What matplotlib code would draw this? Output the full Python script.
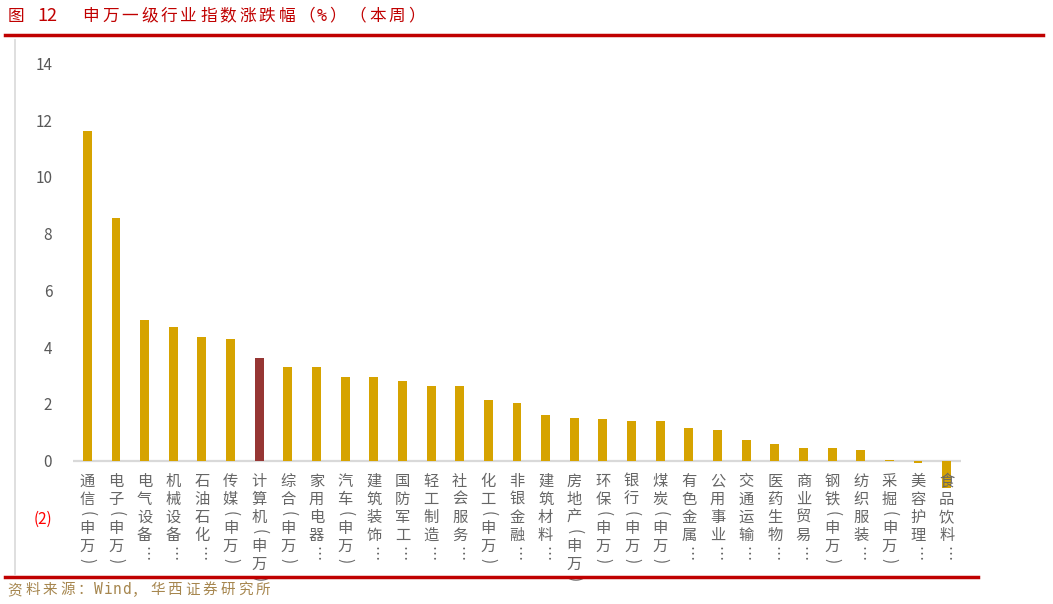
import matplotlib
matplotlib.use('Agg')
import matplotlib.pyplot as plt
from matplotlib.lines import Line2D
from matplotlib.transforms import offset_copy, blended_transform_factory

plt.rcParams['font.family'] = ['Noto Sans CJK SC', 'DejaVu Sans']

# data (% change this week)
industries = ['通信(申万)', '电子(申万)', '电气设备…', '机械设备…', '石油石化…', '传媒(申万)',
              '计算机(申万)', '综合(申万)', '家用电器…', '汽车(申万)', '建筑装饰…', '国防军工…',
              '轻工制造…', '社会服务…', '化工(申万)', '非银金融…', '建筑材料…', '房地产(申万)',
              '环保(申万)', '银行(申万)', '煤炭(申万)', '有色金属…', '公用事业…', '交通运输…',
              '医药生物…', '商业贸易…', '钢铁(申万)', '纺织服装…', '采掘(申万)', '美容护理…',
              '食品饮料…']
changes = [11.60, 8.54, 4.95, 4.72, 4.35, 4.30, 3.60, 3.29, 3.29, 2.93, 2.93, 2.82,
           2.61, 2.61, 2.14, 2.02, 1.60, 1.50, 1.45, 1.39, 1.39, 1.13, 1.07, 0.72,
           0.58, 0.44, 0.44, 0.37, 0.01, -0.07, -0.98]
highlight = '计算机(申万)'
yticks = [-2, 0, 2, 4, 6, 8, 10, 12, 14]
ytick_labels = ['(2)', '0', '2', '4', '6', '8', '10', '12', '14']

W, H = 1053, 604
fig = plt.figure(figsize=(W / 100, H / 100), dpi=100)
ax = fig.add_axes([73 / W, 1 - 517.3 / H, (961 - 73) / W, (517.3 - 63.3) / H])

gold = '#D6A300'
brick = '#963634'
colors = [brick if n == highlight else gold for n in industries]
x = list(range(len(industries)))
ax.bar(x, changes, width=0.31, color=colors, edgecolor='none', zorder=2)
ax.axhline(0, color='#D9D9D9', lw=1.6, zorder=1)

ax.set_xlim(-0.5, len(industries) - 0.5)
ax.set_ylim(-2, 14)
ax.set_yticks(yticks)
ax.set_yticklabels(ytick_labels)
ax.set_xticks([])
ax.tick_params(axis='y', length=0, pad=15, labelsize=11, labelcolor='#595959')
for lab in ax.get_yticklabels():
    if lab.get_text() == '(2)':
        lab.set_color('#FF0000')
for s in ax.spines.values():
    s.set_visible(False)

# vertical stacked category labels
trans = blended_transform_factory(ax.transData, ax.transData)
for i, name in enumerate(industries):
    cursor = 12.0
    for ch in name:
        if ch in '()':
            h = 11.0
            rot = -90
        elif ch == '…':
            h = 18.0
            rot = -90
        else:
            h = 18.0
            rot = 0
        t = offset_copy(trans, fig=fig, x=0, y=-(cursor + h / 2), units='dots')
        ax.text(i, 0, ch, transform=t, ha='center', va='center', rotation=rot,
                fontsize=11, color='#666666', clip_on=False, zorder=3)
        cursor += h


def spaced(x0, y0, s, full, half, **kw):
    # write text char by char, each centred in a fixed-width cell (pixels)
    px = x0
    for ch in s:
        adv = full if ord(ch) > 255 else half
        fam = ['Noto Sans CJK SC'] if ord(ch) > 255 else ['DejaVu Sans Mono']
        fig.text((px + adv / 2) / W, 1 - y0 / H, ch, va='center', ha='center',
                 family=fam, **kw)
        px += adv


# title, rules, source
red = '#C00000'
fig.text(8 / W, 1 - 16 / H, '图', color=red, fontsize=12, va='center', ha='left')
fig.text(37 / W, 1 - 16 / H, '12', color=red, fontsize=13, va='center', ha='left')
spaced(81, 16, '申万一级行业指数涨跌幅（%）（本周）', 19.6, 12, color=red, fontsize=12)
fig.add_artist(Line2D([5 / W, 1043 / W], [1 - 35 / H] * 2, color=red, lw=2.5))
fig.add_artist(Line2D([15 / W, 15 / W], [1 - 40 / H, 1 - 574 / H], color='#D9D9D9', lw=1.2))
fig.add_artist(Line2D([5 / W, 978 / W], [1 - 577 / H] * 2, color=red, lw=2.5))
spaced(6, 590, '资料来源：Wind，华西证券研究所', 17.6, 9.2, color='#A6864E', fontsize=10.5)

fig.savefig('out.png', dpi=100)
